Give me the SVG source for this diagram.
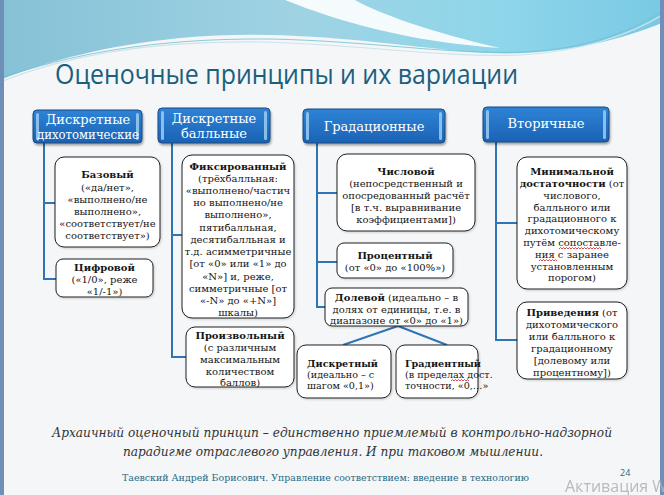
<svg xmlns="http://www.w3.org/2000/svg" width="664" height="495" viewBox="0 0 664 495">
<defs>
<linearGradient id="band" x1="0" y1="0" x2="1" y2="0">
<stop offset="0" stop-color="#86c1d6"/>
<stop offset="0.45" stop-color="#9fd3e4"/>
<stop offset="0.75" stop-color="#8fd6ea"/>
<stop offset="1" stop-color="#79c9e4"/>
</linearGradient>
<linearGradient id="hdr" x1="0" y1="0" x2="0" y2="1">
<stop offset="0" stop-color="#2f83d6"/>
<stop offset="1" stop-color="#1b62b4"/>
</linearGradient>
<filter id="sh" x="-10%" y="-10%" width="130%" height="140%">
<feDropShadow dx="1" dy="2" stdDeviation="1.2" flood-color="#000" flood-opacity="0.35"/>
</filter>
<filter id="sh2" x="-10%" y="-10%" width="130%" height="130%">
<feDropShadow dx="1" dy="1" stdDeviation="0.8" flood-color="#000" flood-opacity="0.18"/>
</filter>
</defs>
<style>
.hb rect.o{fill:url(#hdr);stroke:#1a4a7e;stroke-width:1;filter:url(#sh)}
.hb rect.s{fill:#9cccf2;opacity:0.85}
.hb text{font-family:"DejaVu Serif",serif;font-size:13px;fill:#fff;text-anchor:middle}
.bx rect{fill:#fff;stroke:#1e1e1e;stroke-width:1;filter:url(#sh2)}
.t{font-family:"DejaVu Serif",serif;font-size:10px;fill:#151515;text-anchor:middle}
.l{text-anchor:start;font-size:9.6px}
.b{font-weight:bold}
.conn path{stroke:#2f74b5;stroke-width:2;fill:none}
.sq{stroke:#d02020;stroke-width:0.8;fill:none}
</style>
<rect x="0" y="0" width="664" height="495" fill="#f4f6f8"/>
<g id="background">
<path d="M0,0 H664 V22 C610,45 540,58 470,52 C380,44 290,28 180,38 C110,45 50,60 0,80 Z" fill="url(#band)"/>
<path d="M285,0 C340,22 410,42 500,48 C430,32 380,14 355,0 Z" fill="#ffffff" opacity="0.9"/>
<path d="M0,82 C60,58 140,40 260,42 C360,44 440,58 520,55 C580,52 630,35 664,14" fill="none" stroke="#cfe3ea" stroke-width="1.2"/>
<path d="M0,78 C70,55 150,38 270,39 C370,41 450,55 525,52 C585,49 632,32 664,10" fill="none" stroke="#6fbfd2" stroke-width="0.8"/>
<rect x="0" y="0" width="4" height="495" fill="#6f8fb8"/>
<rect x="660" y="0" width="4" height="495" fill="#6f8fb8"/>
</g>
<text id="title" x="55" y="84" font-family="'Open Sans',sans-serif" font-size="27" fill="#1b5f7d" textLength="463" lengthAdjust="spacingAndGlyphs">Оценочные принципы и их вариации</text>
<g id="connectors" class="conn">
<path d="M44,143 V279 H56 M44,203 H55"/>
<path d="M172,143 V357 H186 M172,235 H182"/>
<path d="M317,143 V307 H325 M317,193 H337 M317,262 H337"/>
<path d="M398,326 L343,345 M398,326 L447,345"/>
<path d="M496,142 V340 H517 M496,223 H517"/>
</g>
<g id="h1" class="hb">
<rect class="o" x="33" y="110" width="109" height="33" rx="4"/>
<rect class="s" x="36" y="113" width="3" height="27" rx="1.5"/>
<rect class="s" x="136" y="113" width="3" height="27" rx="1.5"/>
<text x="88" y="124">Дискретные</text>
<text x="88" y="138.5" textLength="102" lengthAdjust="spacingAndGlyphs">дихотомические</text>
</g>
<g id="h2" class="hb">
<rect class="o" x="158" y="108" width="112" height="35" rx="4"/>
<rect class="s" x="161" y="111" width="3" height="29" rx="1.5"/>
<rect class="s" x="264" y="111" width="3" height="29" rx="1.5"/>
<text x="214" y="123">Дискретные</text>
<text x="214" y="138">балльные</text>
</g>
<g id="h3" class="hb">
<rect class="o" x="303" y="109" width="142" height="34" rx="4"/>
<rect class="s" x="306" y="112" width="3" height="28" rx="1.5"/>
<rect class="s" x="439" y="112" width="3" height="28" rx="1.5"/>
<text x="374" y="131">Градационные</text>
</g>
<g id="h4" class="hb">
<rect class="o" x="483" y="107" width="126" height="35" rx="4"/>
<rect class="s" x="486" y="110" width="3" height="29" rx="1.5"/>
<rect class="s" x="603" y="110" width="3" height="29" rx="1.5"/>
<text x="546" y="128">Вторичные</text>
</g>
<g id="n-bazovyi" class="bx">
<rect x="55" y="157" width="105" height="90" rx="9"/>
<text class="t" x="107.5" y="178"><tspan class="b">Базовый</tspan></text>
<text class="t" x="107.5" y="191">(«да/нет»,</text>
<text class="t" x="107.5" y="203">«выполнено/не</text>
<text class="t" x="107.5" y="215">выполнено»,</text>
<text class="t" x="107.5" y="227">«соответствует/не</text>
<text class="t" x="107.5" y="239">соответствует»)</text>
</g>
<g id="n-cifrovoi" class="bx">
<rect x="56" y="259" width="97" height="38" rx="7"/>
<text class="t b" x="104.5" y="271">Цифровой</text>
<text class="t" x="104.5" y="283">(«1/0», реже</text>
<text class="t" x="104.5" y="295">«1/-1»)</text>
</g>
<g id="n-fiks" class="bx">
<rect x="182" y="155" width="112" height="163" rx="10"/>
<text class="t b" x="238" y="170">Фиксированный</text>
<text class="t" x="238" y="182">(трёхбалльная:</text>
<text class="t" x="238" y="194">«выполнено/частич</text>
<text class="t" x="238" y="206">но выполнено/не</text>
<text class="t" x="238" y="218">выполнено»,</text>
<text class="t" x="238" y="231">пятибалльная,</text>
<text class="t" x="238" y="243">десятибалльная и</text>
<text class="t" x="238" y="255">т.д. асимметричные</text>
<text class="t" x="238" y="267">[от «0» или «1» до</text>
<text class="t" x="238" y="280">«N»] и, реже,</text>
<text class="t" x="238" y="292">симметричные [от</text>
<text class="t" x="238" y="304">«-N» до «+N»]</text>
<text class="t" x="238" y="316">шкалы)</text>
</g>
<g id="n-proizv" class="bx">
<rect x="186" y="327" width="108" height="60" rx="9"/>
<text class="t b" x="240" y="339">Произвольный</text>
<text class="t" x="240" y="351">(с различным</text>
<text class="t" x="240" y="363">максимальным</text>
<text class="t" x="240" y="375">количеством</text>
<text class="t" x="240" y="386">баллов)</text>
</g>
<g id="n-chislovoi" class="bx">
<rect x="337" y="154" width="138" height="77" rx="10"/>
<text class="t b" x="406" y="175">Числовой</text>
<text class="t" x="406" y="187">(непосредственный и</text>
<text class="t" x="406" y="199">опосредованный расчёт</text>
<text class="t" x="406" y="211">[в т.ч. выравнивание</text>
<text class="t" x="406" y="223">коэффициентами])</text>
</g>
<g id="n-procent" class="bx">
<rect x="337" y="243" width="116" height="35" rx="7"/>
<text class="t b" x="395" y="259">Процентный</text>
<text class="t" x="395" y="271">(от «0» до «100%»)</text>
</g>
<g id="n-dolevoi" class="bx">
<rect x="325" y="288" width="143" height="38" rx="7"/>
<text class="t" x="396.5" y="301"><tspan class="b">Долевой</tspan> (идеально – в</text>
<text class="t" x="396.5" y="313">долях от единицы, т.е. в</text>
<text class="t" x="396.5" y="324">диапазоне от «0» до «1»)</text>
</g>
<g id="n-diskretnyi" class="bx">
<rect x="297" y="345" width="94" height="53" rx="9"/>
<text class="t l b" x="307" y="367">Дискретный</text>
<text class="t l" x="307" y="378">(идеально – с</text>
<text class="t l" x="307" y="389">шагом «0,1»)</text>
</g>
<g id="n-gradient" class="bx">
<rect x="396" y="345" width="82" height="53" rx="9"/>
<text class="t l b" x="405" y="367">Градиентный</text>
<text class="t l" x="405" y="378">(в пределах дост.</text>
<text class="t l" x="405" y="389">точности, «0,…»</text>
<path class="sq" d="M451,381 l1.5,-1.5 l1.5,1.5 l1.5,-1.5 l1.5,1.5 l1.5,-1.5 l1.5,1.5 l1.5,-1.5 l1.5,1.5 l1.5,-1.5 l1.5,1.5 l1.5,-1.5 l1.5,1.5"/>
</g>
<g id="n-minimal" class="bx">
<rect x="517" y="157" width="110" height="132" rx="10"/>
<text class="t b" x="572" y="175">Минимальной</text>
<text class="t" x="572" y="187"><tspan class="b">достаточности</tspan> (от</text>
<text class="t" x="572" y="199">числового,</text>
<text class="t" x="572" y="211">балльного или</text>
<text class="t" x="572" y="222">градационного к</text>
<text class="t" x="572" y="234">дихотомическому</text>
<text class="t" x="572" y="246">путём сопоставле-</text>
<text class="t" x="572" y="258">ния с заранее</text>
<text class="t" x="572" y="270">установленным</text>
<text class="t" x="572" y="281">порогом)</text>
<path class="sq" d="M559,249 l1.5,-1.5 l1.5,1.5 l1.5,-1.5 l1.5,1.5 l1.5,-1.5 l1.5,1.5 l1.5,-1.5 l1.5,1.5 l1.5,-1.5 l1.5,1.5 l1.5,-1.5 l1.5,1.5 l1.5,-1.5 l1.5,1.5 l1.5,-1.5 l1.5,1.5 l1.5,-1.5 l1.5,1.5 l1.5,-1.5 l1.5,1.5 l1.5,-1.5 l1.5,1.5 l1.5,-1.5 l1.5,1.5 l1.5,-1.5 l1.5,1.5 l1.5,-1.5 l1.5,1.5 M539,261 l1.5,-1.5 l1.5,1.5 l1.5,-1.5 l1.5,1.5 l1.5,-1.5 l1.5,1.5 l1.5,-1.5 l1.5,1.5 l1.5,-1.5 l1.5,1.5 l1.5,-1.5 l1.5,1.5"/>
</g>
<g id="n-privedenie" class="bx">
<rect x="517" y="302" width="110" height="77" rx="10"/>
<text class="t" x="572" y="316"><tspan class="b">Приведения</tspan> (от</text>
<text class="t" x="572" y="328">дихотомического</text>
<text class="t" x="572" y="340">или балльного к</text>
<text class="t" x="572" y="352">градационному</text>
<text class="t" x="572" y="364">[долевому или</text>
<text class="t" x="572" y="376">процентному])</text>
</g>
<g id="caption" font-family="'DejaVu Serif',serif" font-style="italic" font-size="13" fill="#333" text-anchor="middle">
<text x="332" y="437" textLength="560" lengthAdjust="spacingAndGlyphs">Архаичный оценочный принцип – единственно приемлемый в контрольно-надзорной</text>
<text x="333" y="456" textLength="420" lengthAdjust="spacingAndGlyphs">парадигме отраслевого управления. И при таковом мышлении.</text>
</g>
<g id="footer">
<text x="122" y="481" font-family="'DejaVu Serif',serif" font-size="9" fill="#1d6a85" textLength="407" lengthAdjust="spacingAndGlyphs">Таевский Андрей Борисович. Управление соответствием: введение в технологию</text>
<text x="620" y="476" font-family="'Open Sans',sans-serif" font-size="9" fill="#1d6a85">24</text>
<text x="565" y="492" font-family="'Open Sans',sans-serif" font-size="16" fill="#b4b4b4" opacity="0.9">Активация W</text>
</g>
</svg>
